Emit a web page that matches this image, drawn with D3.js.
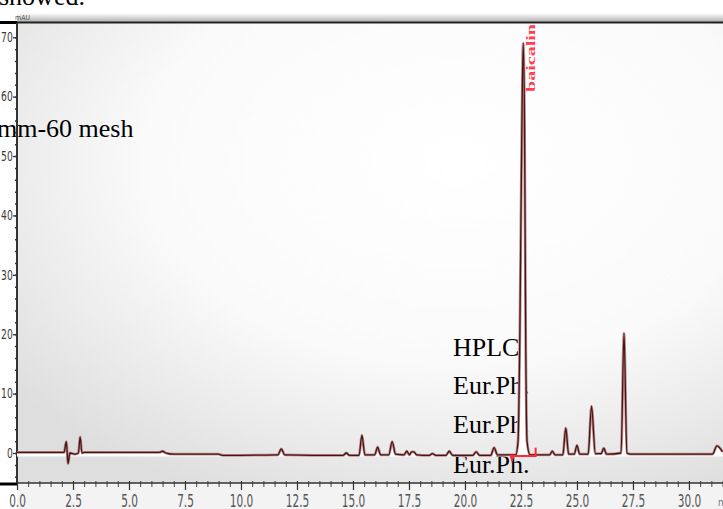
<!DOCTYPE html>
<html>
<head>
<meta charset="utf-8">
<script src="https://cdn.jsdelivr.net/npm/d3@7"></script>
<style>
  body { margin: 0; background: #fff; overflow: hidden; }
  svg { display: block; }
</style>
</head>
<body>
<div id="chart"></div>
<script>
// chromatogram trace, [time (min), signal (mAU)]
var traceTimes = [0, 2.1, 2.2, 2.28, 2.36, 2.6, 2.74, 2.82, 2.9, 3.0, 6.35, 6.5, 6.65, 7.0, 9.0, 9.2, 11.65, 11.8, 11.95, 14.55, 14.7, 14.85,
  15.27, 15.4, 15.53, 15.97, 16.1, 16.23, 16.6, 16.75, 16.9, 17.28, 17.4, 17.52, 17.62, 17.72, 17.84, 18.4, 18.55, 18.7,
  19.15, 19.3, 19.45, 20.35, 20.5, 20.65, 21.15, 21.3, 21.45, 22.27, 22.37, 22.45, 22.54, 22.6, 22.66, 22.71, 22.77, 22.9,
  23.78, 23.9, 24.02, 24.37, 24.5, 24.63, 24.88, 25.0, 25.12, 25.5, 25.65, 25.82, 26.08, 26.2, 26.32, 26.97, 27.1, 27.23, 27.4,
  31.05, 31.25, 31.5];
var traceValues = [0.1, 0.1, 1.9, -1.8, 0.0, -0.2, 0.0, 2.7, 0.0, 0.1, 0.1, 0.3, 0.0, -0.2, -0.2, -0.4, -0.3, 0.7, -0.3, -0.4, 0.0, -0.4,
  -0.4, 3.0, -0.3, -0.3, 1.0, -0.3, -0.3, 1.9, -0.2, -0.3, 0.3, -0.3, 0.2, 0.2, -0.3, -0.4, -0.1, -0.4,
  -0.4, 0.3, -0.4, -0.4, 0.2, -0.4, -0.4, 0.9, -0.3, -0.3, 2.0, 20, 55, 69, 55, 20, 2.0, -0.3,
  -0.3, 0.3, -0.3, -0.3, 4.2, -0.2, -0.2, 1.3, -0.2, -0.2, 7.9, -0.1, -0.1, 0.8, -0.2, 0.0, 20.2, 0.0, -0.2,
  -0.2, 1.2, 0.2];

var yMajor = [0, 10, 20, 30, 40, 50, 60, 70];
var xMajor = [0, 2.5, 5, 7.5, 10, 12.5, 15, 17.5, 20, 22.5, 25, 27.5, 30];

var peakName = "baicalin";
var peakStart = 22.0, peakEnd = 23.2, peakBase = -0.5;

var overlayLines = ["HPLC", "Eur.Ph.", "Eur.Ph.", "Eur.Ph."];

var svgWidth = 723, svgHeight = 509;
var plotLeft = 17, plotTop = 23, plotBottom = 483;

var svg = d3.select("#chart").append("svg")
  .attr("width", svgWidth)
  .attr("height", svgHeight);

var xScale = d3.scaleLinear().domain([0, 31.52]).range([plotLeft, svgWidth]);
var yScale = d3.scaleLinear().domain([-5.05, 72.4]).range([plotBottom, plotTop]);

var defs = svg.append("defs");
var rg = defs.append("radialGradient").attr("id", "plotbg")
  .attr("cx", 0.62).attr("cy", 0.3).attr("r", 0.8);
rg.append("stop").attr("offset", 0).attr("stop-color", "#ffffff");
rg.append("stop").attr("offset", 0.55).attr("stop-color", "#fafafa");
rg.append("stop").attr("offset", 1).attr("stop-color", "#dedede");
var band = defs.append("linearGradient").attr("id", "band")
  .attr("x1", 0).attr("y1", 0).attr("x2", 0).attr("y2", 1);
band.append("stop").attr("offset", 0).attr("stop-color", "#ffffff");
band.append("stop").attr("offset", 1).attr("stop-color", "#b0b0b0");

// backgrounds
svg.append("rect").attr("x", plotLeft).attr("y", plotTop).attr("width", svgWidth - plotLeft).attr("height", plotBottom - plotTop)
  .attr("fill", "url(#plotbg)");
svg.append("rect").attr("x", plotLeft).attr("y", plotBottom).attr("width", svgWidth - plotLeft).attr("height", svgHeight - plotBottom)
  .attr("fill", "#f3f3f3");
svg.append("rect").attr("x", plotLeft).attr("y", 13).attr("width", svgWidth - plotLeft).attr("height", 9)
  .attr("fill", "url(#band)");

svg.append("text").attr("x", -1).attr("y", 5)
  .attr("font-family", "Liberation Serif").attr("font-size", 26)
  .text("showed.");
svg.append("text").attr("x", 15).attr("y", 19.5)
  .attr("font-family", "DejaVu Sans Condensed").attr("font-size", 7).attr("fill", "#555")
  .text("mAU");

// overlaid body text
var serif = svg.append("g").attr("font-family", "Liberation Serif").attr("font-size", 26).attr("fill", "#000");
serif.append("text").attr("x", -3).attr("y", 137).text("mm-60 mesh");
serif.selectAll(".ov").data(overlayLines).enter().append("text")
  .attr("x", 453)
  .attr("y", (d, i) => [356, 394, 433, 473][i])
  .text(d => d);

// axes
var yAxisMinor = d3.axisLeft(yScale).tickValues(d3.range(-4, 72, 2)).tickSize(2).tickFormat("");
var yAxis = d3.axisLeft(yScale).tickValues(yMajor).tickSize(4).tickPadding(1).tickFormat(d3.format("d"));
svg.append("g").attr("transform", `translate(${plotLeft},0)`).call(yAxisMinor)
  .call(g => g.select(".domain").remove())
  .selectAll("line").attr("stroke", "#333").attr("stroke-width", 1.5);
var gy = svg.append("g").attr("transform", `translate(${plotLeft},0)`).call(yAxis);
gy.select(".domain").remove();
gy.selectAll("line").attr("stroke", "#333").attr("stroke-width", 1.3);
gy.selectAll("text")
  .attr("transform", "scale(0.85,1.1)")
  .attr("font-family", "DejaVu Sans Condensed").attr("font-size", 12).attr("fill", "#3a3a3a");

var xAxisMinor = d3.axisBottom(xScale).tickValues(d3.range(0, 31.6, 0.5)).tickSize(4).tickFormat("");
var xAxis = d3.axisBottom(xScale).tickValues(xMajor).tickSize(7).tickFormat(d3.format(".1f"));
svg.append("g").attr("transform", `translate(0,${plotBottom})`).call(xAxisMinor)
  .call(g => g.select(".domain").remove())
  .selectAll("line").attr("y1", -2).attr("stroke", "#444");
var gx = svg.append("g").attr("transform", `translate(0,${plotBottom})`).call(xAxis);
gx.select(".domain").remove();
gx.selectAll("line").attr("y1", -2).attr("stroke", "#333").attr("stroke-width", 1.2);
gx.selectAll("text")
  .attr("y", 24).attr("dy", 0)
  .attr("transform", "scale(0.65,1)")
  .attr("font-family", "DejaVu Sans Condensed").attr("font-size", 18).attr("fill", "#555");
svg.append("text").attr("x", 718).attr("y", 506)
  .attr("font-family", "DejaVu Sans Condensed").attr("font-size", 10).attr("fill", "#777")
  .text("min");

// frame lines
svg.append("line").attr("x1", plotLeft).attr("x2", svgWidth).attr("y1", plotTop - 0.5).attr("y2", plotTop - 0.5)
  .attr("stroke", "#222").attr("stroke-width", 2.2);
svg.append("line").attr("x1", 0).attr("x2", plotLeft).attr("y1", plotTop - 0.5).attr("y2", plotTop - 0.5)
  .attr("stroke", "#000").attr("stroke-width", 3);
svg.append("line").attr("x1", 0).attr("x2", plotLeft).attr("y1", plotBottom + 1).attr("y2", plotBottom + 1)
  .attr("stroke", "#000").attr("stroke-width", 3);
svg.append("line").attr("x1", plotLeft).attr("x2", svgWidth).attr("y1", plotBottom).attr("y2", plotBottom)
  .attr("stroke", "#333").attr("stroke-width", 1.6);
svg.append("line").attr("x1", plotLeft).attr("x2", plotLeft).attr("y1", plotTop).attr("y2", plotBottom)
  .attr("stroke", "#333").attr("stroke-width", 2);

// trace
var trace = traceTimes.map((t, i) => [t, traceValues[i]]);
var area = d3.area()
  .x(d => xScale(d[0]))
  .y0(yScale(-0.6))
  .y1(d => yScale(d[1]))
  .curve(d3.curveMonotoneX);
var line = d3.line()
  .x(d => xScale(d[0]))
  .y(d => yScale(d[1]))
  .curve(d3.curveMonotoneX);

svg.append("path").datum(trace).attr("d", area).attr("fill", "#fff");
svg.append("path").datum(trace).attr("d", line)
  .attr("fill", "none").attr("stroke", "#b99090").attr("stroke-width", 2.8);
svg.append("path").datum(trace).attr("d", line)
  .attr("fill", "none").attr("stroke", "#4a1212").attr("stroke-width", 1.3);

// integration baseline marker
var red = "#ff2a36";
svg.append("line")
  .attr("x1", xScale(peakStart)).attr("x2", xScale(peakEnd))
  .attr("y1", yScale(peakBase)).attr("y2", yScale(peakBase))
  .attr("stroke", red).attr("stroke-width", 2);
svg.append("path")
  .attr("d", `M${xScale(peakStart)},${yScale(peakBase)} L${xScale(peakStart) + 5},${yScale(peakBase)} L${xScale(peakStart) + 2},${yScale(peakBase - 1.2)} Z`)
  .attr("fill", red);
svg.append("line")
  .attr("x1", xScale(peakEnd) - 1).attr("x2", xScale(peakEnd) - 1)
  .attr("y1", yScale(peakBase)).attr("y2", yScale(peakBase + 1.4))
  .attr("stroke", red).attr("stroke-width", 2);

// peak label
svg.append("text")
  .attr("transform", `translate(${xScale(22.6) + 12},92) rotate(-90)`)
  .attr("font-family", "Liberation Serif").attr("font-weight", "bold")
  .attr("font-size", 12).attr("fill", "#ff4050")
  .attr("textLength", 68).attr("lengthAdjust", "spacingAndGlyphs")
  .text(peakName);
</script>
</body>
</html>
